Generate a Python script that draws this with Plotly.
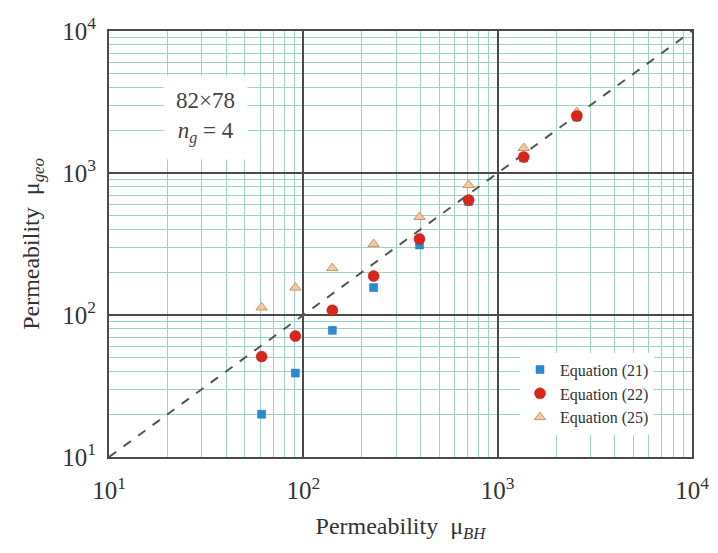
import plotly.graph_objects as go

# Data
mu_bh = [61, 91, 141, 230, 396, 709, 1362, 2554]
eq21 = [20, 39, 78, 156, 311, 630, 1276, 2480]
eq22 = [51, 71, 108, 188, 343, 645, 1297, 2519]
eq25 = [113, 156, 214, 316, 490, 823, 1500, 2690]
ref_line = [10, 10000]

tick_vals = [10, 100, 1000, 10000]
tick_text = ["10<sup>1</sup>", "10<sup>2</sup>", "10<sup>3</sup>", "10<sup>4</sup>"]

FONT = "Liberation Serif"
MAJOR = "#4a4a4a"
MINOR = "#9dd3bf"

fig = go.Figure()

fig.add_trace(go.Scatter(
    x=ref_line, y=ref_line, mode="lines", showlegend=False,
    line=dict(color="#555555", width=2, dash="dash"), hoverinfo="skip"))

fig.add_trace(go.Scatter(
    x=mu_bh, y=eq25, mode="markers", name="Equation (25)", legendrank=3,
    marker=dict(symbol="triangle-up", size=10, color="#f2c8a2",
                line=dict(color="#c9966c", width=1))))
fig.add_trace(go.Scatter(
    x=mu_bh, y=eq21, mode="markers", name="Equation (21)", legendrank=1,
    marker=dict(symbol="square", size=8, color="#2a8bd0",
                line=dict(color="#1f78b8", width=0.5))))
fig.add_trace(go.Scatter(
    x=mu_bh, y=eq22, mode="markers", name="Equation (22)", legendrank=2,
    marker=dict(symbol="circle", size=11, color="#d8261c",
                line=dict(color="#b01c14", width=0.5))))

axis_common = dict(
    type="log", tickvals=tick_vals, ticktext=tick_text, automargin=False,
    showgrid=True, gridcolor=MAJOR, gridwidth=1.5,
    showline=True, linecolor=MAJOR, linewidth=2, mirror=True,
    ticks="", zeroline=False,
    tickfont=dict(family=FONT, size=25, color="#333333"),
    minor=dict(dtick="D1", showgrid=True, gridcolor=MINOR, gridwidth=1, ticks=""),
)

# The page body adds an 8px offset, so the figure is 8px smaller on each side
fig.update_layout(
    width=710, height=545,
    margin=dict(l=101, r=26, t=23, b=96),
    paper_bgcolor="white", plot_bgcolor="white",
    font=dict(family=FONT, color="#333333"),
    xaxis=dict(range=[1, 4], ticklabelstandoff=10,
               title=dict(text="Permeability  μ<sub><i>BH</i></sub>",
                          font=dict(family=FONT, size=24, color="#333333"),
                          standoff=14),
               **axis_common),
    yaxis=dict(range=[1, 4], ticklabelstandoff=6,
               title=dict(text="Permeability  μ<sub><i>geo</i></sub>",
                          font=dict(family=FONT, size=24, color="#333333"),
                          standoff=16),
               **axis_common),
    legend=dict(x=0.705, y=0.245, xanchor="left", yanchor="top",
                bgcolor="white", borderwidth=0,
                font=dict(family=FONT, size=16, color="#333333"),
                itemsizing="trace", tracegroupgap=0),
    annotations=[dict(
        x=0.166, y=0.796, xref="paper", yref="paper",
        xanchor="center", yanchor="middle",
        text="82×78<br><i>n</i><sub><i>g</i></sub> = 4",
        showarrow=False, align="center",
        font=dict(family=FONT, size=23, color="#444444"),
        bgcolor="white", borderpad=12)],
)

fig.write_html("out.html")
